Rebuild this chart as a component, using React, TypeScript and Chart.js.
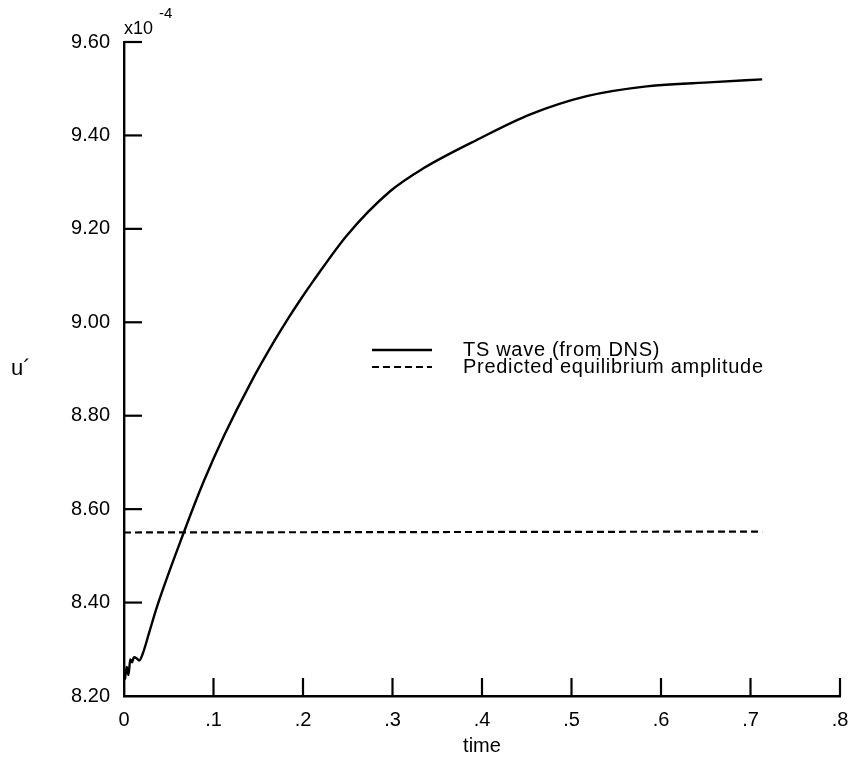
import { useEffect, useRef } from 'react';
import { Chart, registerables } from 'chart.js';

Chart.register(...registerables);

// TS wave amplitude (units of 1e-4) versus time
const timeTS = [0.001, 0.003, 0.005, 0.007, 0.009, 0.011, 0.014, 0.017, 0.021, 0.028, 0.037, 0.067, 0.089, 0.112, 0.142, 0.168, 0.184, 0.198, 0.211, 0.249, 0.297, 0.334, 0.398, 0.454, 0.517, 0.584, 0.658, 0.713];
const ampTS = [8.235, 8.262, 8.245, 8.278, 8.272, 8.283, 8.281, 8.276, 8.291, 8.335, 8.392, 8.551, 8.659, 8.758, 8.872, 8.96, 9.01, 9.051, 9.087, 9.186, 9.28, 9.329, 9.394, 9.445, 9.484, 9.505, 9.514, 9.52];

// predicted equilibrium amplitude
const timeEq = [0, 0.713];
const ampEq = [8.55, 8.552];

const xTicks = [0, 0.1, 0.2, 0.3, 0.4, 0.5, 0.6, 0.7, 0.8];
const xTickLabels = ['0', '.1', '.2', '.3', '.4', '.5', '.6', '.7', '.8'];
const yTicks = [8.2, 8.4, 8.6, 8.8, 9.0, 9.2, 9.4, 9.6];
const yTickLabels = ['8.20', '8.40', '8.60', '8.80', '9.00', '9.20', '9.40', '9.60'];

const seriesLabels = ['TS wave (from DNS)', 'Predicted equilibrium amplitude'];
const xTitle = 'time';
const yTitle = 'u\u00B4';
const yScaleText = 'x10';
const yScaleExp = '-4';

const FONT = '"Liberation Sans", Arial, Helvetica, sans-serif';

const decorPlugin = {
  id: 'decor',
  afterDraw(chart: any) {
    const { ctx, chartArea, scales } = chart;
    const xs = scales.x;
    const ys = scales.y;
    ctx.save();
    ctx.strokeStyle = '#000';
    ctx.fillStyle = '#000';
    ctx.lineWidth = 2.2;
    ctx.lineCap = 'butt';
    // inward ticks on x axis
    xs.ticks.forEach((t: any) => {
      if (t.value === 0) return;
      const px = xs.getPixelForValue(t.value);
      ctx.beginPath();
      ctx.moveTo(px, chartArea.bottom);
      ctx.lineTo(px, chartArea.bottom - 18);
      ctx.stroke();
    });
    // inward ticks on y axis
    ys.ticks.forEach((t: any) => {
      if (Math.abs(t.value - 8.2) < 1e-9) return;
      const py = ys.getPixelForValue(t.value);
      ctx.beginPath();
      ctx.moveTo(chartArea.left, py);
      ctx.lineTo(chartArea.left + 18, py);
      ctx.stroke();
    });

    // y title (unrotated)
    ctx.font = `22px ${FONT}`;
    ctx.textAlign = 'left';
    ctx.textBaseline = 'alphabetic';
    ctx.fillText(yTitle, 11, 375);

    // exponent label
    ctx.font = `18px ${FONT}`;
    ctx.fillText(yScaleText, 124, 34);
    ctx.font = `15px ${FONT}`;
    ctx.fillText(yScaleExp, 159, 18);

    // legend
    const ds = chart.data.datasets;
    const lx0 = 372;
    const lx1 = 432;
    const tx = 463;
    const rows = [350, 367];
    ctx.font = `20px ${FONT}`;
    (ctx as any).letterSpacing = '0.7px';
    ctx.textBaseline = 'middle';
    ds.forEach((d: any, i: number) => {
      const y = rows[i];
      ctx.save();
      ctx.lineWidth = d.borderWidth;
      ctx.setLineDash(d.borderDash || []);
      ctx.beginPath();
      ctx.moveTo(lx0, y);
      ctx.lineTo(lx1, y);
      ctx.stroke();
      ctx.restore();
      ctx.fillText(d.label, tx, y);
    });
    ctx.restore();
  },
};

export default function App() {
  const ref = useRef<HTMLCanvasElement | null>(null);

  useEffect(() => {
    if (!ref.current) return;
    const chart = new Chart(ref.current, {
      type: 'line',
      data: {
        datasets: [
          {
            label: seriesLabels[0],
            data: timeTS.map((t, i) => ({ x: t, y: ampTS[i] })),
            borderColor: '#000',
            borderWidth: 2.4,
            pointRadius: 0,
            cubicInterpolationMode: 'monotone',
            fill: false,
          },
          {
            label: seriesLabels[1],
            data: timeEq.map((t, i) => ({ x: t, y: ampEq[i] })),
            borderColor: '#000',
            borderWidth: 2.2,
            borderDash: [7, 4],
            pointRadius: 0,
            fill: false,
          },
        ],
      },
      options: {
        animation: false,
        responsive: false,
        events: [],
        layout: { padding: { top: 42, right: 8, left: 0, bottom: 0 } },
        plugins: { legend: { display: false }, tooltip: { enabled: false }, title: { display: false } },
        scales: {
          x: {
            type: 'linear',
            min: 0,
            max: 0.8,
            afterBuildTicks: (s: any) => {
              s.ticks = xTicks.map((v) => ({ value: v }));
            },
            afterFit: (s: any) => {
              s.height = 63;
              s.paddingLeft = 0;
              s.paddingRight = 0;
            },
            grid: { display: false, drawTicks: false },
            border: { display: true, color: '#000', width: 2.4 },
            ticks: {
              autoSkip: false,
              maxRotation: 0,
              padding: 12,
              color: '#000',
              font: { family: FONT, size: 20 },
              callback: (_v: any, i: number) => xTickLabels[i],
            },
            title: {
              display: true,
              text: xTitle,
              color: '#000',
              font: { family: FONT, size: 20 },
              padding: { top: 0, bottom: 1 },
            },
          },
          y: {
            type: 'linear',
            min: 8.2,
            max: 9.6,
            afterBuildTicks: (s: any) => {
              s.ticks = yTicks.map((v) => ({ value: v }));
            },
            afterFit: (s: any) => {
              s.width = 124;
              s.paddingTop = 0;
              s.paddingBottom = 0;
            },
            grid: { display: false, drawTicks: false },
            border: { display: true, color: '#000', width: 2.4 },
            ticks: {
              autoSkip: false,
              padding: 14,
              color: '#000',
              font: { family: FONT, size: 20 },
              callback: (_v: any, i: number) => yTickLabels[i],
            },
          },
        },
      },
      plugins: [decorPlugin],
    } as any);
    return () => chart.destroy();
  }, []);

  return (
    <div style={{ position: 'fixed', left: 0, top: 0, width: 848, height: 759, background: '#fff' }}>
      <canvas ref={ref} width={848} height={759} style={{ display: 'block' }} />
    </div>
  );
}
